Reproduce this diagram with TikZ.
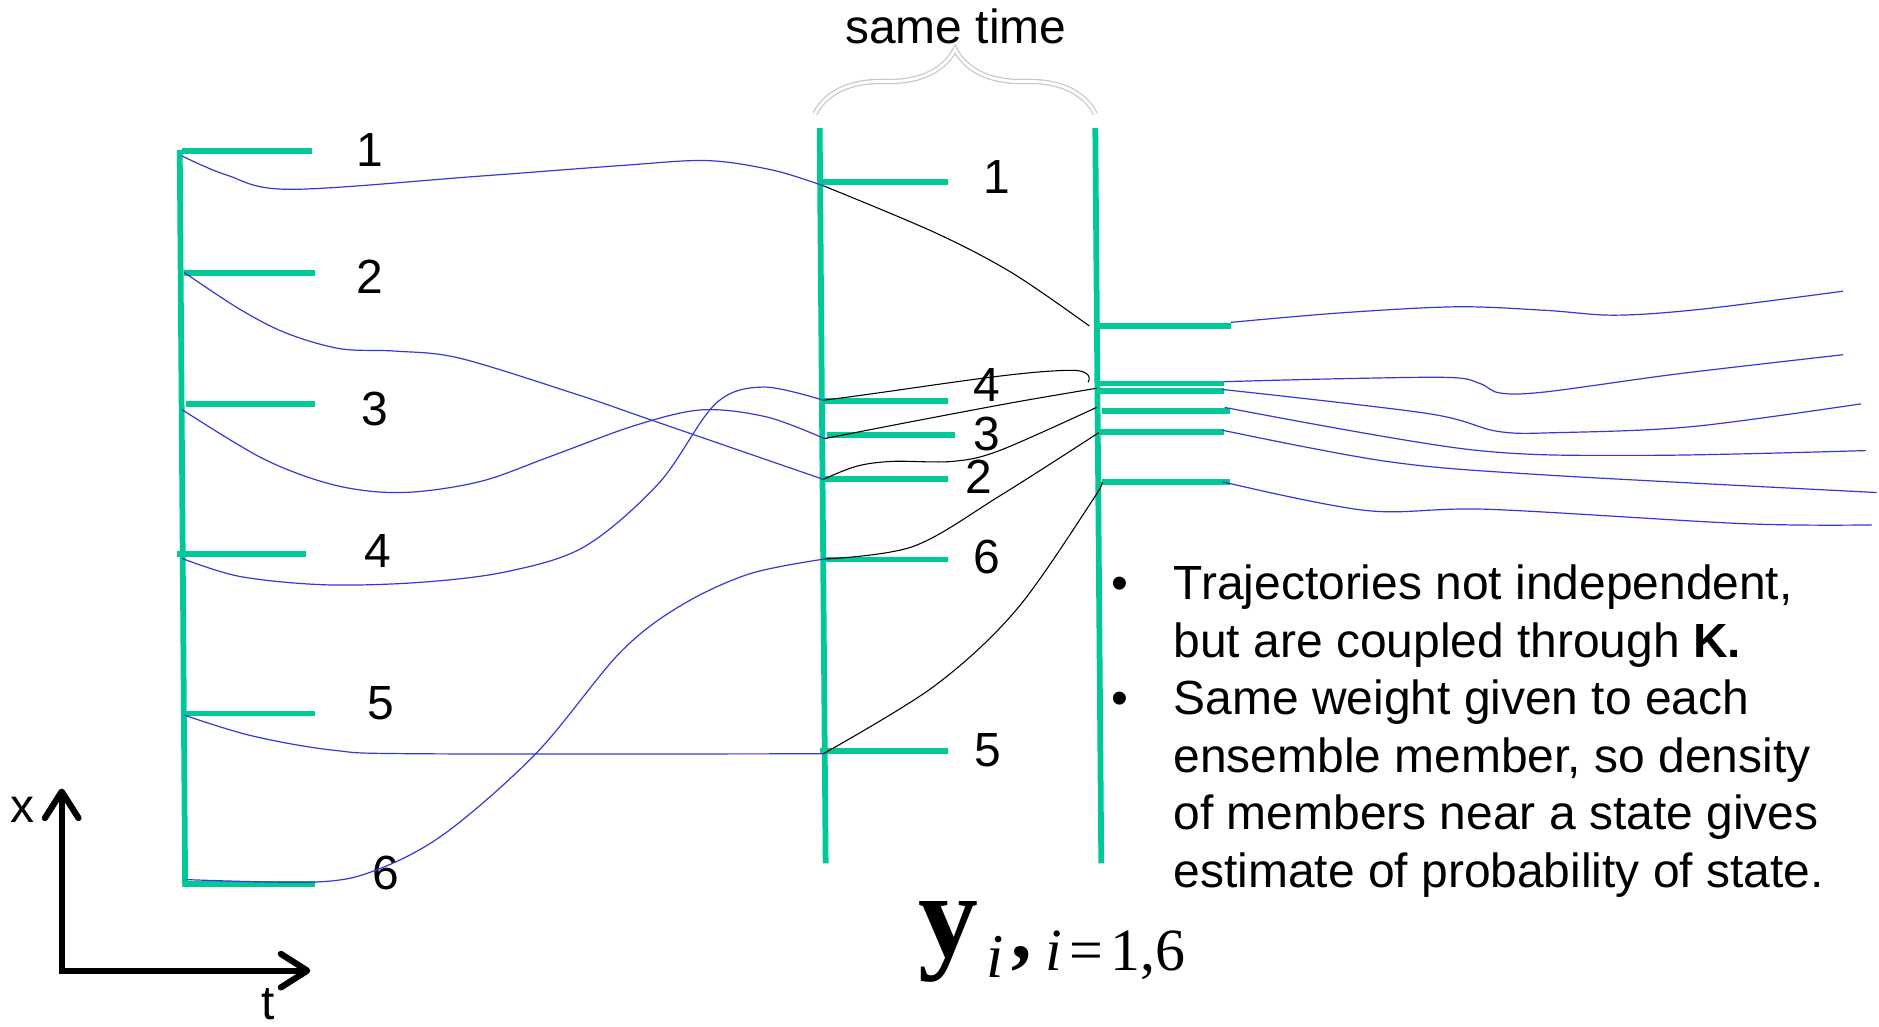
\documentclass[tikz,border=0pt]{standalone}
\usepackage{fontspec}
\setmainfont{Liberation Sans}
\newfontfamily\timesfont{Liberation Serif}
\usetikzlibrary{positioning, calc, arrows.meta, decorations.pathreplacing}
\definecolor{ensgreen}{RGB}{0,200,150}
\definecolor{ensblue}{RGB}{55,55,215}
\tikzset{stem/.style={draw=ensgreen, line width=2.4pt},
member/.style={draw=ensgreen, line width=2.4pt},
traj/.style={draw=ensblue, line width=0.5pt},
update/.style={draw=black, line width=0.45pt},
num/.style={inner sep=0pt, font=\fontsize{20}{24}\selectfont},
axis/.style={line width=2.6pt, line cap=round, line join=miter,
  {Straight Barb[length=11pt, width=14pt, line cap=round, line join=round]}-{Straight Barb[length=11pt, width=14pt, line cap=round, line join=round]}},
brace/.style={draw=gray!45, double=white, double distance=1.2pt, line width=0.5pt,
  decorate, decoration={brace, amplitude=27pt}}
}
\begin{document}
\begin{tikzpicture}[x=0.5pt, y=-0.5pt]
\useasboundingbox (0,0) rectangle (1568,857);
% ensemble at the start
\draw[stem] (150,125) -- (154.5,740);
\draw[member] (151.6,125.7) -- (260,125.7);
\draw[member] (153.6,227.5) -- (263,227.5);
\draw[member] (155,337.4) -- (263,337.4);
\draw[member] (148,462.3) -- (255,462.3);
\draw[member] (153.4,595.3) -- (262.7,595.3);
\draw[member] (154.4,737.7) -- (262.9,737.7);
\node[num] (n1) at (308.8,125) {1};
\node[num] (n2) at (308.8,231) {2};
\node[num] (n3) at (313,341) {3};
\node[num] (n4) at (315.5,460) {4};
\node[num] (n5) at (318,587) {5};
\node[num] (n6) at (321.7,728.5) {6};
\coordinate (L1) at (151.6,130);
\coordinate (L2) at (153.6,227.3);
\coordinate (L3) at (151.6,341.6);
\coordinate (L4) at (152,466);
\coordinate (L5) at (153.5,596.7);
\coordinate (L6) at (155,734);
% ensemble before the update
\draw[stem] (684,107) -- (689,720.5);
\draw[member] (684,152) -- (791.4,152);
\draw[member] (687,334.4) -- (791.4,334.4);
\draw[member] (690,363.3) -- (797,363.3);
\draw[member] (687,399.7) -- (791,399.7);
\draw[member] (687,466.8) -- (791,466.8);
\draw[member] (684.3,626.7) -- (791.4,626.7);
\node[num] (m1) at (831.7,147.5) {1};
\node[num] (m4) at (823.4,321.3) {4};
\node[num] (m3) at (823.4,362) {3};
\node[num] (m2) at (817,397.8) {2};
\node[num] (m6) at (823.4,464.6) {6};
\node[num] (m5) at (824,626) {5};
\coordinate (M1) at (687,155);
\coordinate (M2) at (687,400);
\coordinate (M3) at (688,366);
\coordinate (M4) at (687,334);
\coordinate (M5) at (687,629);
\coordinate (M6) at (688,466.5);
% ensemble after the update
\draw[stem] (914,107) -- (919,720.5);
\draw[member] (918,272) -- (1027,272);
\draw[member] (916,320) -- (1021,320);
\draw[member] (916,326.3) -- (1021,326.3);
\draw[member] (919.5,343) -- (1026,343);
\draw[member] (918,360.8) -- (1021,360.8);
\draw[member] (919.5,402) -- (1026,402);
\coordinate (F1) at (909,272);
\coordinate (F4) at (908,319);
\coordinate (F3) at (915,324);
\coordinate (F2) at (915,340);
\coordinate (F6) at (917,361);
\coordinate (F5) at (919,403);
\coordinate (E1) at (1027,269);
\coordinate (E4) at (1021,318.5);
\coordinate (E3) at (1020,325);
\coordinate (E2) at (1022,340);
\coordinate (E6) at (1020,359);
\coordinate (E5) at (1020,402);
\coordinate (Z1) at (1538,243);
\coordinate (Z4) at (1538,296);
\coordinate (Z3) at (1553,337);
\coordinate (Z2) at (1557,376);
\coordinate (Z6) at (1566,411);
\coordinate (Z5) at (1562,438);
% forecast trajectories
\draw[traj] plot[smooth, tension=0.55] coordinates {(L1) (189,146) (242,158) (400,147) (520,138) (590,134) (645,142) (M1)};
\draw[traj] plot[smooth, tension=0.55] coordinates {(L2) (200,258) (239,278) (284,291) (330,293) (384,299) (484,330) (542,350) (M2)};
\draw[traj] plot[smooth, tension=0.55] coordinates {(L3) (220,383) (280,405) (336,411) (400,402) (459,381) (530,355) (586,342) (640,348) (M3)};
\draw[traj] plot[smooth, tension=0.55] coordinates {(L4) (200,481) (271,488) (350,486) (423,477) (488,456) (550,403) (597,337) (637,323) (M4)};
\draw[traj] plot[smooth, tension=0.55] coordinates {(L5) (210,614) (278,626) (350,629) (M5)};
\draw[traj] plot[smooth, tension=0.55] coordinates {(L6) (264,736) (314,726) (372,695) (448,628) (517,545) (567,506) (625,479) (M6)};
% analysis update
\draw[update] plot[smooth, tension=0.55] coordinates {(M1) (780,194) (845,228) (F1)};
\draw[update] (M4) .. controls (760,325) and (850,309) .. (895,309) .. controls (907,309) and (911,314) .. (F4);
\draw[update] plot[smooth, tension=0.55] coordinates {(M3) (760,352) (845,336) (F3)};
\draw[update] plot[smooth, tension=0.55] coordinates {(M2) (715,389) (745,385) (795,385) (834,376) (F2)};
\draw[update] plot[smooth, tension=0.55] coordinates {(M6) (762,456) (834,414) (F6)};
\draw[update] plot[smooth, tension=0.55] coordinates {(M5) (779,573) (848,509) (912,417) (F5)};
% next forecast
\draw[traj] plot[smooth, tension=0.55] coordinates {(E1) (1120,261) (1216,256) (1290,259) (1348,263) (1420,258) (Z1)};
\draw[traj] plot[smooth, tension=0.55] coordinates {(E4) (1120,316) (1210,315) (1235,320) (1252,328) (1290,327) (1400,312) (Z4)};
\draw[traj] plot[smooth, tension=0.55] coordinates {(E3) (1191,345) (1250,360) (1300,361) (1412,356) (Z3)};
\draw[traj] plot[smooth, tension=0.55] coordinates {(E2) (1225,375) (1370,380) (Z2)};
\draw[traj] plot[smooth, tension=0.55] coordinates {(E6) (1157,385) (1284,396) (Z6)};
\draw[traj] plot[smooth, tension=0.55] coordinates {(E5) (1140,426) (1242,425) (1455,437) (Z5)};
% same time bracket
\coordinate (bl) at (680,95);
\coordinate (br) at (914,95);
\draw[brace] (bl) -- (br);
\node[num, anchor=base] (same) at (797.6,36) {same time};
% axes
\coordinate (O) at (51.5,810);
\coordinate (xtip) at (51.5,658);
\coordinate (ttip) at (259,810);
\draw[axis] (xtip) -- (O) -- (ttip);
\node[num, anchor=base] (xlab) at (18.8,686) {x};
\node[num, anchor=base] (tlab) at (224,851) {t};
% ensemble label
\node[inner sep=0pt, anchor=base west] (ylab) at (766,798) {\timesfont{\fontsize{50}{50}\selectfont\bfseries y}\hspace{3.5pt}\raisebox{-9pt}{\fontsize{26}{26}\selectfont\itshape i}\hspace{3pt}\raisebox{-1pt}{\fontsize{34}{34}\selectfont\bfseries ,}\hspace{6pt}\raisebox{-6pt}{\fontsize{25}{25}\selectfont\itshape i\upshape\kern3pt=\kern3pt1,6}};
% notes
\node[num, anchor=north west, align=left] (notes) at (927,471) {\makebox[26pt][l]{\textbullet}Trajectories not independent,\\
\hspace*{26pt}but are coupled through \textbf{K.}\\
\makebox[26pt][l]{\textbullet}Same weight given to each\\
\hspace*{26pt}ensemble member, so density\\
\hspace*{26pt}of members near a state gives\\
\hspace*{26pt}estimate of probability of state.};
\end{tikzpicture}
\end{document}
